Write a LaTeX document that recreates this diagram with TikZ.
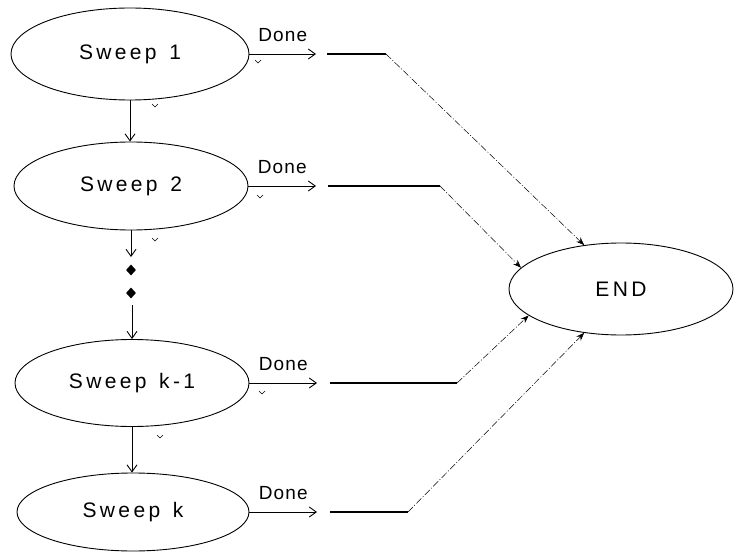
\documentclass[tikz,border=0pt]{standalone}
\usepackage{fontspec}
\setmainfont{Liberation Sans}
\usetikzlibrary{shapes.geometric,arrows.meta}
\tikzset{
  sweepbox/.style={draw, ellipse, inner sep=0pt, line width=0.9pt,
    font=\fontsize{21}{24}\selectfont\addfontfeatures{LetterSpace=16}},
  donelbl/.style={font=\fontsize{19}{22}\selectfont\addfontfeatures{LetterSpace=6}, inner sep=0pt},
  flow/.style={line width=0.9pt, -{Straight Barb[length=7pt,width=10pt]}},
  solidseg/.style={line width=1.2pt},
  diag/.style={line width=0.5pt, dash pattern=on 7pt off 2pt on 1pt off 2pt, -{Stealth[length=8pt,width=6pt]}},
  tick/.style={line width=0.7pt},
  dotmark/.style={fill, diamond, inner sep=0pt, minimum width=10pt, minimum height=11pt}
}
\begin{document}
\begin{tikzpicture}[x=1pt,y=-1pt]
\useasboundingbox (0,0) rectangle (734,559);
% sweep nodes
\node[sweepbox, minimum width=238pt, minimum height=92pt] (s1) at (130,54) {Sweep\hspace{0.6em}1};
\node[sweepbox, minimum width=234pt, minimum height=88pt] (s2) at (131,186) {Sweep\hspace{0.6em}2};
\node[sweepbox, minimum width=234pt, minimum height=87pt] (s3) at (132,383) {Sweep\hspace{0.6em}k-1};
\node[sweepbox, minimum width=232pt, minimum height=78pt] (s4) at (133,512) {Sweep\hspace{0.6em}k};
\node[sweepbox, minimum width=224pt, minimum height=92pt] (end) at (621,289) {END};
% dots
\node[dotmark] (dA) at (131,270) {};
\node[dotmark] (dB) at (131,293) {};
\coordinate (s2out) at (131,257);
\coordinate (dBout) at (132,305);
% vertical flow
\draw[flow] (s1.south) -- (s1.south |- s2.north);
\draw[flow] (s2.south) -- (s2out);
\draw[flow] (dBout) -- (dBout |- s3.north);
\draw[flow] (s3.south) -- (s3.south |- s4.north);
% Done arrows
\coordinate (a1) at (316,54);
\coordinate (a2) at (316,186);
\coordinate (a3) at (317,383);
\coordinate (a4) at (317,512);
\draw[flow] (s1.east) -- (a1) node[donelbl, midway, above=12pt] (l1) {Done};
\draw[flow] (s2.east) -- (a2) node[donelbl, midway, above=12pt] (l2) {Done};
\draw[flow] (s3.east) -- (a3) node[donelbl, midway, above=12pt] (l3) {Done};
\draw[flow] (s4.east) -- (a4) node[donelbl, midway, above=12pt] (l4) {Done};
% solid segments and diagonals to END
\coordinate (b1) at (327,54);  \coordinate (c1) at (386,54);
\coordinate (b2) at (328,186); \coordinate (c2) at (440,186);
\coordinate (b3) at (330,383); \coordinate (c3) at (457,383);
\coordinate (b4) at (330,512); \coordinate (c4) at (408,512);
\draw[solidseg] (b1) -- (c1);
\draw[solidseg] (b2) -- (c2);
\draw[solidseg] (b3) -- (c3);
\draw[solidseg] (b4) -- (c4);
\draw[diag] (c1) -- (end.130);
\draw[diag] (c2) -- (end.168);
\draw[diag] (c3) -- (end.196);
\draw[diag] (c4) -- (end.230);
% small tick marks
\foreach \x/\y in {258/62, 155/106, 260/197, 155/240, 262/393, 160/437}{
  \draw[tick] (\x-3,\y-2) -- (\x,\y+1) -- (\x+3,\y-2);
}
\end{tikzpicture}
\end{document}
